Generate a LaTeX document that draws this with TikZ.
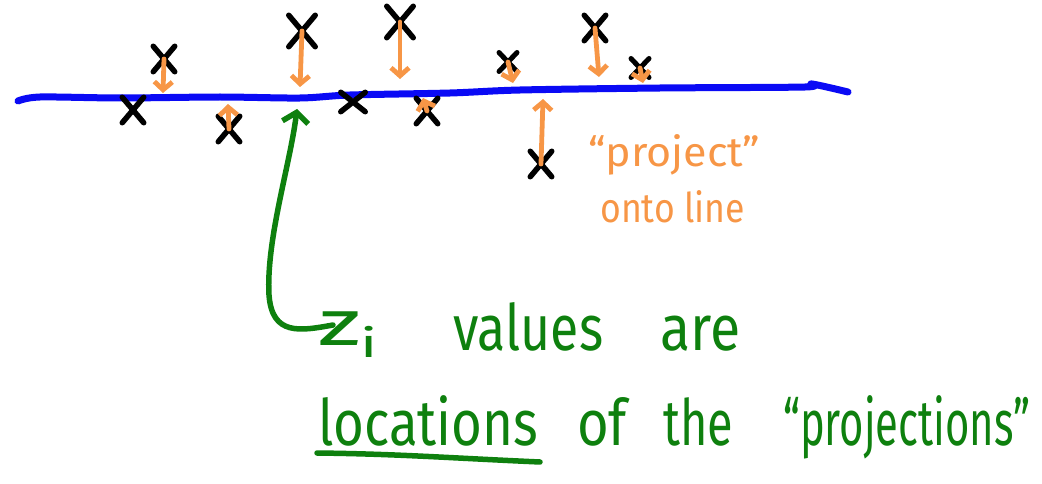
\documentclass[tikz,border=0pt]{standalone}
\usepackage{fontspec}
\setmainfont{Fira Sans}
\usetikzlibrary{shapes.misc,arrows.meta}
\definecolor{penblue}{RGB}{10,10,245}
\definecolor{penorange}{RGB}{247,150,70}
\definecolor{pengreen}{RGB}{14,128,14}
\begin{document}
\begin{tikzpicture}[x=1pt,y=-1pt,
  xmark/.style={cross out,draw=black,line width=5.5pt,line cap=round,inner sep=0pt,minimum width=16pt,minimum height=20pt},
  bigx/.style={xmark,minimum width=21pt,minimum height=26pt},
  smallx/.style={xmark,line width=5pt,minimum width=13pt,minimum height=14pt},
  proj/.style={draw=penorange,line width=4.8pt,line cap=round,-{Straight Barb[length=8pt,width=18pt]}},
  gword/.style={anchor=base west,inner sep=0pt,text=pengreen,font=\fontsize{64}{64}\selectfont},
  oword/.style={anchor=base west,inner sep=0pt,text=penorange,font=\fontsize{41}{41}\selectfont},
  linestyle/.style={draw=penblue,line width=7pt,line cap=round,line join=round},
  gpen/.style={draw=pengreen,line width=5.5pt,line cap=round,line join=round}
]
\useasboundingbox (0,0) rectangle (1042,484);

% the line
\draw[linestyle] plot[smooth,tension=0.5] coordinates {(18,101) (40,97) (120,98) (220,97) (300,98) (350,95) (450,93) (520,90) (660,88) (805,87) (812,84) (848,92)};

% points
\node[xmark] (x1) at (164,59) {};
\node[xmark] (x2) at (133,110) {};
\node[xmark] (x3) at (229,129) {};
\node[bigx] (x4) at (302,31) {};
\node[bigx] (x5) at (400,22) {};
\node[xmark,minimum height=14pt,minimum width=19pt] (x6) at (353,102) {};
\node[xmark] (x7) at (427,111) {};
\node[smallx] (x8) at (508,62) {};
\node[xmark] (x9) at (595,28) {};
\node[smallx] (x10) at (640,68) {};
\node[xmark] (x11) at (541,164) {};

% projection points on the line
\coordinate (l1) at (163,93);
\coordinate (l3) at (228,104);
\coordinate (l4) at (300,87);
\coordinate (l5) at (400,79);
\coordinate (l7) at (423,98);
\coordinate (l8) at (513,83);
\coordinate (l9) at (599,77);
\coordinate (l10) at (643,83);
\coordinate (l11) at (543,99);

\draw[proj] (x1.center) -- (l1);
\draw[proj] (x3.center) -- (l3);
\draw[proj] (x4.center) -- (l4);
\draw[proj] (x5.center) -- (l5);
\draw[proj] (x7.center) -- (l7);
\draw[proj] (x8.center) -- (l8);
\draw[proj] (x9.center) -- (l9);
\draw[proj] (x10.center) -- (l10);
\draw[proj] (x11.center) -- (l11);

% orange label
\node[oword] (o1) at (588,167) {\resizebox{172pt}{\height}{“project”}};
\node[oword] (o2) at (600,222) {\resizebox{145pt}{\height}{onto line}};

% green text
\node[gword] (w1) at (318,345) {\resizebox{60pt}{\height}{z\raisebox{-12pt}{\fontsize{40}{40}\selectfont i}}};
\node[gword] (w2) at (453,350) {\resizebox{150pt}{\height}{values}};
\node[gword] (w3) at (660,350) {\resizebox{80pt}{\height}{are}};
\node[gword] (w4) at (318,445) {\resizebox{220pt}{\height}{locations}};
\node[gword] (w5) at (577,445) {\resizebox{50pt}{\height}{of}};
\node[gword] (w6) at (663,445) {\resizebox{70pt}{\height}{the}};
\node[gword] (w7) at (783,445) {\resizebox{247pt}{\height}{“projections”}};

% underline
\draw[gpen] (317,453) .. controls (400,454) and (450,458) .. (540,462);

% green arrow
\coordinate (g0) at (333,325);
\coordinate (gt) at (297,109);
\draw[gpen,-{Straight Barb[length=10pt,width=26pt]}] (g0) .. controls (300,331) and (272,336) .. (269,295) .. controls (266,240) and (290,165) .. (gt);
\end{tikzpicture}
\end{document}
